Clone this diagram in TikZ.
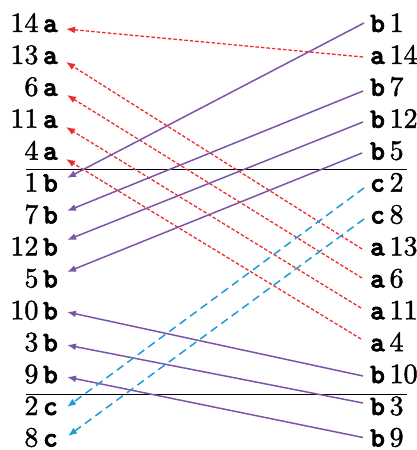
\documentclass[tikz,border=0pt]{standalone}
\usepackage{fontspec}
\usetikzlibrary{arrows.meta}
\setmainfont{lmroman10-regular.otf}[FakeBold=1.5]
\newfontfamily\boldmono{lmmonolt10-bold.otf}[FakeBold=2.5]
\definecolor{rd}{HTML}{EE2A2F}
\definecolor{pu}{HTML}{7D55A8}
\definecolor{bl}{HTML}{1E9AD6}
\newcommand\mylet[1]{{\boldmono #1}}
\begin{document}
\begin{tikzpicture}[x=1pt,y=-1pt,
  lab/.style={inner sep=0pt, font=\fontsize{28}{32}\selectfont},
  lft/.style={lab, anchor=base east},
  rgt/.style={lab, anchor=base west},
  con/.style={-{Latex[length=9pt,width=7pt]}},
  redc/.style={con, rd, line width=1.3pt, dash pattern=on 3.5pt off 2pt},
  puc/.style={con, pu, line width=1.5pt},
  blc/.style={con, bl, line width=1.5pt, dash pattern=on 8pt off 5pt},
  sepline/.style={black, line width=0.8pt}]
\useasboundingbox (0,0) rectangle (417,450);
% left column
\node[lft] (L0)  at (58,32)    {14\,\mylet{a}};
\node[lft] (L1)  at (58,63.9)  {13\,\mylet{a}};
\node[lft] (L2)  at (58,95.8)  {6\,\mylet{a}};
\node[lft] (L3)  at (58,127.8) {11\,\mylet{a}};
\node[lft] (L4)  at (58,159.7) {4\,\mylet{a}};
\node[lft] (L5)  at (58,191.6) {1\,\mylet{b}};
\node[lft] (L6)  at (58,223.5) {7\,\mylet{b}};
\node[lft] (L7)  at (58,255.4) {12\,\mylet{b}};
\node[lft] (L8)  at (58,287.4) {5\,\mylet{b}};
\node[lft] (L9)  at (58,319.3) {10\,\mylet{b}};
\node[lft] (L10) at (58,351.2) {3\,\mylet{b}};
\node[lft] (L11) at (58,383.1) {9\,\mylet{b}};
\node[lft] (L12) at (58,415)   {2\,\mylet{c}};
\node[lft] (L13) at (58,446.5) {8\,\mylet{c}};
% right column
\node[rgt] (R0)  at (370,32)    {\mylet{b}\,1};
\node[rgt] (R1)  at (370,63.9)  {\mylet{a}\,14};
\node[rgt] (R2)  at (370,95.8)  {\mylet{b}\,7};
\node[rgt] (R3)  at (370,127.8) {\mylet{b}\,12};
\node[rgt] (R4)  at (370,159.7) {\mylet{b}\,5};
\node[rgt] (R5)  at (370,191.6) {\mylet{c}\,2};
\node[rgt] (R6)  at (370,223.5) {\mylet{c}\,8};
\node[rgt] (R7)  at (370,255.4) {\mylet{a}\,13};
\node[rgt] (R8)  at (370,287.4) {\mylet{a}\,6};
\node[rgt] (R9)  at (370,319.3) {\mylet{a}\,11};
\node[rgt] (R10) at (370,351.2) {\mylet{a}\,4};
\node[rgt] (R11) at (370,383.1) {\mylet{b}\,10};
\node[rgt] (R12) at (370,415)   {\mylet{b}\,3};
\node[rgt] (R13) at (370,446.5) {\mylet{b}\,9};
% separator lines
\coordinate (s1a) at (26,169);  \coordinate (s1b) at (407,169);
\coordinate (s2a) at (26,394);  \coordinate (s2b) at (407,394);
\draw[sepline] (s1a) -- (s1b);
\draw[sepline] (s2a) -- (s2b);
% a connectors (red dotted)
\draw[redc] ([shift={(-7pt,6.9pt)}]R1.base west)  -- ([shift={(8pt,3pt)}]L0.base east);
\draw[redc] ([shift={(-8pt,6.4pt)}]R7.base west)  -- ([shift={(8pt,1.9pt)}]L1.base east);
\draw[redc] ([shift={(-8pt,9.4pt)}]R8.base west)  -- ([shift={(9pt,0.8pt)}]L2.base east);
\draw[redc] ([shift={(-9pt,11.3pt)}]R9.base west) -- ([shift={(8pt,0.8pt)}]L3.base east);
\draw[redc] ([shift={(-9pt,12.2pt)}]R10.base west) -- ([shift={(8pt,0.7pt)}]L4.base east);
% b connectors (purple solid)
\draw[puc] ([shift={(-6pt,9pt)}]R0.base west)   -- ([shift={(9pt,13.6pt)}]L5.base east);
\draw[puc] ([shift={(-7pt,4.8pt)}]R2.base west) -- ([shift={(9pt,12.5pt)}]L6.base east);
\draw[puc] ([shift={(-7pt,5.8pt)}]R3.base west) -- ([shift={(9pt,15.4pt)}]L7.base east);
\draw[puc] ([shift={(-8pt,6.7pt)}]R4.base west) -- ([shift={(9pt,15.4pt)}]L8.base east);
\draw[puc] ([shift={(-7pt,7.1pt)}]R11.base west) -- ([shift={(9pt,7.3pt)}]L9.base east);
\draw[puc] ([shift={(-7pt,12pt)}]R12.base west)  -- ([shift={(9pt,6.2pt)}]L10.base east);
\draw[puc] ([shift={(-7pt,9pt)}]R13.base west)   -- ([shift={(9pt,6.1pt)}]L11.base east);
% c connectors (blue dashed)
\draw[blc] ([shift={(-6pt,3.6pt)}]R5.base west) -- ([shift={(9pt,8pt)}]L12.base east);
\draw[blc] ([shift={(-6pt,4.5pt)}]R6.base west) -- ([shift={(10pt,10.5pt)}]L13.base east);
\end{tikzpicture}
\end{document}
